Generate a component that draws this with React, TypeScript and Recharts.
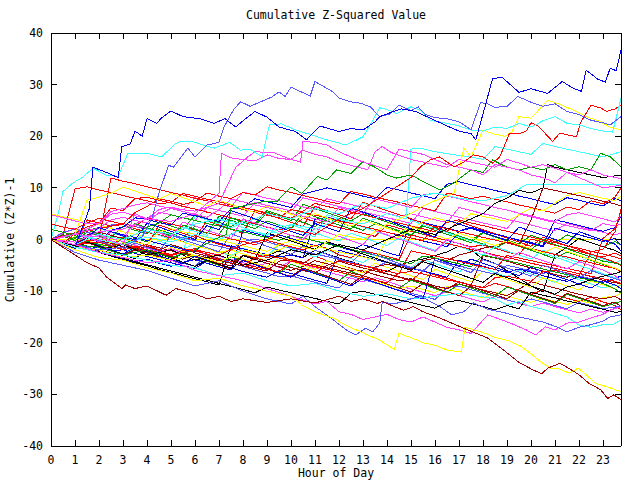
import React from 'react';
import { LineChart, Line, XAxis, YAxis } from 'recharts';

// ---------- axes ----------
const HALF_HOURS = [0, 0.5, 1, 1.5, 2, 2.5, 3, 3.5, 4, 4.5, 5, 5.5, 6, 6.5, 7, 7.5, 8, 8.5, 9, 9.5, 10, 10.5, 11, 11.5, 12, 12.5, 13, 13.5, 14, 14.5, 15, 15.5, 16, 16.5, 17, 17.5, 18, 18.5, 19, 19.5, 20, 20.5, 21, 21.5, 22, 22.5, 23, 23.5, 23.75];
const X_TICKS = [0, 1, 2, 3, 4, 5, 6, 7, 8, 9, 10, 11, 12, 13, 14, 15, 16, 17, 18, 19, 20, 21, 22, 23];
const Y_TICKS = [-40, -30, -20, -10, 0, 10, 20, 30, 40];
const X_DOMAIN: [number, number] = [0, 23.75];
const Y_DOMAIN: [number, number] = [-40, 40];

const TITLE = 'Cumulative Z-Squared Value';
const X_LABEL = 'Hour of Day';
const Y_LABEL = 'Cumulative (Z*Z)-1';

const COLORS: Record<string, string> = {
  R: '#ff0000',
  G: '#00a000',
  B: '#0000ee',
  M: '#ff40ff',
  C: '#40ffff',
  D: '#a00000',
  Y: '#ffff00',
  K: '#000000',
  L: '#5858ff',
};

type Pair = [number, number];

// ---------- prominent series: [hour, value] ----------
const TOP_BLUE: Pair[] = [[0,0],[0.5,-1],[1,-1.5],[1.6,6],[1.75,14],[2.3,13],[2.8,12],[2.95,18],[3.3,18.5],[3.5,21],[3.8,20],[4,23.4],[4.4,22.5],[4.6,23.5],[5,24.9],[5.5,23.8],[6.2,23.4],[6.8,22.5],[7.25,23.4],[7.7,21.8],[8,23],[8.5,24.8],[9,23.7],[9.5,21.8],[10.2,20.9],[10.65,19.3],[10.9,20.6],[11.2,22],[12,20.9],[12.5,21.5],[13,21.2],[13.5,22.8],[13.7,23.8],[14.1,24.5],[14.6,25.3],[15.2,24.8],[15.8,23.5],[16.5,22],[17,21],[17.5,20.5],[17.7,19.3],[18.1,26],[18.4,31.2],[18.8,31.4],[19.5,28.5],[20,29.2],[20.7,28.3],[21.3,30.6],[21.8,29.2],[22.1,28.7],[22.3,32.8],[22.8,31],[23.1,30.5],[23.3,33.2],[23.55,32.7],[23.75,36.7]];
const TOP_LIGHTBLUE: Pair[] = [[0,0],[1,-1],[2,-2],[3,-1.5],[3.8,0.5],[4.2,4],[4.5,9],[4.9,14.4],[5.1,14],[5.7,17.7],[6,16],[6.5,18.3],[7,18.8],[7.2,21.7],[7.6,25.1],[7.9,26.7],[8.3,25.8],[8.8,26.8],[9.2,27.6],[9.5,28.6],[9.75,27.7],[10,29.5],[10.8,27.8],[11,30.6],[11.75,28.6],[12,27.4],[12.45,26.7],[12.9,26.4],[13.3,25.7],[13.7,23.8],[14.1,24.3],[14.5,26],[15,25],[15.3,25.7],[15.6,24.2],[16,23.6],[16.5,23.4],[17,22.8],[17.5,21.3],[17.9,26.5],[18.2,26.3],[18.5,25.6],[19,25.8],[19.45,27.7],[20,26.6],[20.5,25.8],[21,26.3],[21.5,24.8],[22,24.2],[22.5,23.1],[23,22.6],[23.3,22.2],[23.75,23.8]];
const TOP_CYAN: Pair[] = [[0,0],[0.3,5],[0.5,9.3],[0.9,10.9],[1.3,12],[1.75,13.8],[2.3,12.5],[2.8,12.2],[3.2,16.7],[4,16.7],[4.6,16],[5.2,18.6],[5.4,19],[5.9,19],[6.4,18.2],[6.8,17.7],[7.45,18.8],[7.9,17.3],[8.3,17.5],[8.8,16],[9.1,22.2],[9.6,22.4],[10.2,21.2],[10.9,20.2],[11.5,19.3],[12.3,18.3],[13,19.9],[13.3,22.2],[13.7,25.5],[14,25.2],[14.4,24.4],[15,25.7],[15.4,25],[15.8,23.1],[16.5,22.5],[17,22],[17.5,21.2],[18,21],[18.5,21.8],[19,21.5],[19.5,22.5],[20,21.8],[20.5,23],[21,23.8],[21.5,22.5],[22,22.2],[22.5,21.5],[23,21],[23.4,20.8],[23.75,27.3]];
const TOP_RED: Pair[] = [[0,0],[1,-1],[2,-0.5],[3,-2],[4,-1],[5,-3],[6,-2],[7,-3],[8,-1],[9,0],[10,2],[11,1],[12,4],[13,6],[14,9],[15,12],[15.4,14.1],[15.8,15.4],[16.2,16],[16.5,15],[16.8,14.1],[17.2,15],[17.6,16.4],[18,16],[18.4,14.8],[18.7,16],[19.1,20.5],[19.5,20.5],[19.8,21],[20,22.6],[20.3,22],[20.9,19],[21.2,20.6],[21.9,19.9],[22.05,22.5],[22.5,26],[22.9,25.5],[23.15,24.8],[23.5,25.3],[23.75,26]];
const TOP_YELLOW: Pair[] = [[0,0],[1,-1.5],[2,-2],[3,-3.5],[4,-3],[5,-4],[6,-3],[7,-4.5],[8,-2],[9,-3],[10,-1],[11,-2],[12,1],[13,0],[14,3],[15,5],[15.5,6.5],[16,7.5],[16.8,9],[17.2,17.7],[17.5,16],[18,21.2],[18.4,20.5],[18.9,20],[19.2,20.8],[19.5,23.8],[20,23.5],[20.3,25],[20.7,27],[21.3,26],[21.8,25],[22.3,23.8],[22.8,23],[23.3,21.8],[23.75,21.2]];
const UPPER_MAGENTA_1: Pair[] = [[0,0],[1,1],[2,0.5],[3,-1],[3.5,5],[4,4],[5,6],[6,5.5],[7,7],[7.7,14],[8.2,16],[8.5,17],[9.3,16.8],[10,15.5],[10.4,15],[10.5,19],[11,18.8],[11.5,18.3],[12,17],[12.5,16],[13,15],[13.5,14.3],[14,13.5],[14.5,17.5],[15,17],[15.5,16.5],[16,15.5],[16.5,14.5],[17,14],[17.5,13.5],[18,12.5],[18.5,14.5],[19,14],[19.5,13.5],[20,12.5],[20.5,12],[21,11],[21.5,13],[22,12],[22.5,11],[23,10],[23.75,10.5]];
const UPPER_MAGENTA_2: Pair[] = [[0,0],[1,-0.5],[2,1.5],[3,2],[4,4],[5,3.5],[6,5],[6.5,7],[7,9],[7.1,16.7],[7.5,15.8],[8,15.5],[8.5,15.2],[9,16.4],[9.5,15.7],[10,15.5],[10.5,17.3],[11,16.5],[11.5,16],[12,15],[12.7,14.1],[13.2,13.5],[13.5,17],[13.8,18],[14.2,16.8],[15,15.5],[15.8,14.7],[16.5,14],[17,15.5],[17.5,15],[18,14.5],[18.5,14],[19,15.5],[19.5,14.8],[20,14],[20.5,14.5],[21,13.8],[21.5,13],[22,12.5],[22.5,13.5],[23,12.5],[23.75,11.8]];
const UPPER_GREEN: Pair[] = [[0,0],[1,-1],[2,-1.5],[3,-3],[4,-2],[5,-3.5],[6,-2],[6.8,0],[7.3,1],[7.5,6],[8,6.5],[8.8,7.3],[9.4,7.3],[10,10.2],[10.45,8.9],[11.1,12.2],[11.5,11.5],[11.9,13.5],[12.5,12.8],[13,15.1],[13.5,14],[14,12.5],[14.4,11.9],[15,12.5],[15.4,11.5],[16.2,9.6],[16.8,11],[17.5,13.5],[18,13],[18.4,15.4],[19,14],[19.5,13.5],[20,14],[20.5,13.5],[21,14.5],[21.5,13.5],[22,14.1],[22.5,13.5],[22.9,16.7],[23.3,16],[23.75,14.1]];
const UPPER_CYAN: Pair[] = [[0,0],[1,1],[2,0],[3,-1],[4,0.5],[5,-0.5],[6,1],[7,0],[8,2],[9,1],[10,3],[11,2],[12,4],[13,3],[14,5],[14.8,4],[15,17.5],[15.4,17.7],[16,17],[16.8,16.4],[17.5,16],[18,15.5],[18.5,18],[19,17.5],[19.5,17],[20,16.5],[20.5,18.6],[21,18],[21.5,17.5],[22,17],[22.5,16.5],[23,16],[23.75,17]];
const UPPER_BLACK: Pair[] = [[0,0],[1,-1],[2,-2],[3,-1],[4,-3],[5,-2],[6,-4],[7,-3],[8,-5],[9,-4],[10,-2],[11,-3],[12,-1],[13,-2],[14,0],[15,2],[16,1],[17,3],[18,5],[18.5,7],[19,8],[19.5,9.5],[20,9],[20.5,10],[20.7,14.5],[21,14],[21.5,13.5],[22,13],[22.5,12.5],[23,12],[23.75,12.5]];
const FLAT_CYAN: Pair[] = [[0,0],[1,-1],[2,1],[3,0],[4,2],[5,1],[6,3],[7,4],[8,3],[9,5],[10,4],[11,6],[12,5],[13,7],[14,6],[15,8],[16,9],[17,8],[18,7.5],[19,8.5],[19.8,10.6],[23.75,10.6]];
const BOTTOM_DARKRED: Pair[] = [[0,0],[0.5,-1.5],[1,-3],[1.5,-4.5],[2,-5.5],[2.3,-7.2],[2.95,-9.5],[3.1,-8.8],[3.5,-9.5],[4,-9],[4.8,-10.8],[5.2,-9.5],[6,-10.5],[6.5,-11.5],[7,-11],[7.5,-12],[8,-11.5],[9,-12.2],[10,-11.5],[11,-12.3],[12,-11],[12.5,-12],[13,-11.5],[13.6,-12.4],[13.8,-12],[14.3,-13],[14.7,-13.7],[15.1,-13],[15.5,-14],[16.2,-15.2],[17.2,-17.2],[18.2,-19.1],[18.85,-21.4],[19.5,-23.8],[20.1,-25.3],[20.45,-26],[20.7,-24.9],[21.2,-24],[21.6,-25],[22,-26.2],[22.4,-27.8],[22.9,-29.1],[23.2,-30.8],[23.45,-30.1],[23.75,-31]];
const BOTTOM_YELLOW: Pair[] = [[0,0],[1,-2],[2,-3.5],[3,-4],[4,-5.5],[5,-6.5],[6,-8],[7,-7.5],[8,-9],[9,-10],[10,-11],[10.5,-12.8],[11,-14],[11.75,-15.2],[12.3,-16.6],[12.9,-17.9],[13.7,-19.5],[14.3,-21.3],[14.5,-18.2],[15,-19],[15.5,-20],[16,-20.5],[16.5,-21.4],[17.1,-21.8],[17.25,-17],[17.6,-17.5],[18,-18],[18.5,-19],[19,-19.5],[19.55,-20.6],[19.96,-22],[20.4,-23.7],[20.8,-24.9],[21.2,-25.1],[21.6,-25.9],[21.97,-24.9],[22.3,-26.2],[22.7,-27.9],[23.15,-28.5],[23.75,-29.5]];
const BOTTOM_LIGHTBLUE: Pair[] = [[0,0],[1,-2.5],[2,-4],[3,-5],[4,-6],[5,-7.5],[6,-9],[7,-8],[8,-10],[9,-11.5],[10,-12.5],[10.5,-11],[11,-13],[11.6,-15],[12.3,-17.5],[12.7,-18.5],[13.1,-17.2],[13.4,-17.9],[13.7,-16.2],[13.8,-12.1],[14.3,-12.5],[15,-11.5],[15.4,-11],[16.2,-13],[16.7,-14.6],[17.2,-14],[17.6,-12.3],[18.2,-13.5],[19,-14.3],[19.5,-15],[20,-15.5],[20.5,-16],[21,-16.8],[21.5,-17.9],[22,-17],[22.5,-16.5],[23,-15.8],[23.3,-15],[23.75,-14.6]];
const BOTTOM_MAGENTA: Pair[] = [[0,0],[1,-1],[2,-2.5],[3,-3.5],[4,-4.5],[5,-4],[6,-6],[7,-7],[8,-8],[9,-9.5],[10,-11],[11,-12.5],[11.5,-12],[12,-14],[12.5,-14.5],[13,-15.5],[13.5,-15],[14,-14.5],[14.5,-15.5],[15,-16],[15.5,-15],[16,-16],[16.5,-17],[17,-17.5],[17.5,-18.2],[18.2,-14.6],[18.8,-15.6],[19.3,-16.5],[19.8,-17.5],[20.2,-18.5],[20.6,-16.9],[21,-17.5],[21.5,-16.2],[22,-16],[22.5,-15.2],[23,-14.5],[23.4,-13.5],[23.75,-13]];
const BOTTOM_CYAN: Pair[] = [[0,0],[1,-1.5],[2,-2.5],[3,-3],[4,-4],[5,-5],[6,-5.5],[7,-7],[8,-6.5],[9,-8],[10,-9],[11,-8.5],[12,-10],[13,-11],[14,-10.5],[15,-11.5],[16,-11],[17,-10.5],[18,-11.1],[18.5,-11.5],[19,-12.7],[19.5,-12],[20,-13],[20.5,-13.5],[21,-14.3],[21.5,-15],[22,-16.6],[22.5,-17],[23,-16.5],[23.4,-16.5],[23.75,-15.6]];
const ZERO_YELLOW: Pair[] = [[0,0],[23.75,0]];

// ---------- half-hourly series (values at HALF_HOURS) ----------
const H01 = [0,-0.4,-1.1,3.8,3.2,2.6,2.9,2.1,1.4,0.9, 0.3,-0.4,0.8,-0.2,-0.9,-1.5,-2.2,-2.8,-3.5,-3.1, -4.0,-4.6,-3.2,-4.1,-4.9,-5.6,-6.4,-5.8,-6.6,-7.3, -8.0,-6.1,-6.9,-7.5,-8.2,-8.8,-9.4,-8.5,-9.1,-9.9, -10.6,-9.8,-10.7,-11.4,-12.0,-11.2,-12.1,-12.8, -13.6];
const H02 = [0,0.9,0.2,1.8,1.1,0.4,2.6,1.8,1.1,3.4, 2.6,1.9,4.8,4.0,3.3,2.5,3.9,3.1,5.6,4.8, 4.0,3.3,2.5,4.1,3.3,2.6,1.8,3.0,2.2,1.5, 0.7,2.9,2.1,1.3,0.6,-0.2,1.4,0.6,-0.1,-0.9, 0.8,0.0,-0.7,0.9,0.1,-0.6,-1.4,-0.4, -1.1];
const H03 = [0,-0.5,-1.1,-1.8,-2.4,-3.0,-3.7,-4.3,-3.8,-4.6, -5.2,-4.4,-3.9,-4.6,-5.3,-5.9,1.8,1.2,0.6,0.9, 0.2,-0.5,-1.2,-0.6,-1.4,-2.1,-1.0,-1.7,-2.5,-3.2, 3.9,3.3,2.7,2.2,1.6,2.4,1.7,1.1,0.5,-0.2, -0.8,-1.4,2.2,1.5,0.9,0.3,-0.4,0.2, -1.1];
const H04 = [0,1.2,2.1,1.5,0.8,0.2,-0.4,-1.1,-1.7,-2.3, -1.8,-2.6,-3.3,-2.5,-3.2,-3.9,-4.5,-5.2,-4.6,-5.4, -4.1,-4.8,-5.5,-6.2,-6.9,-7.5,-8.2,-7.4,-8.1,-8.9, -9.6,-10.2,-10.9,-10.1,-10.8,-11.5,-12.1,-11.0,-11.7,-12.4, -13.0,-12.3,-13.0,-13.6,-14.2,-13.5,-14.1,-13.4, -13.0];
const H05 = [0,-0.8,0.4,-0.4,-1.2,0.9,0.1,-0.7,-1.5,-0.3, -1.1,-1.9,-0.8,-1.6,-2.4,-3.2,-1.7,-2.5,-3.3,-1.0, -1.8,-2.6,-3.4,-2.1,-2.9,-3.7,-4.5,-3.0,-3.8,-4.6, -5.4,-3.9,-4.7,-5.5,-6.3,-4.8,-5.6,-6.4,-7.2,-5.9, -6.7,-7.5,-8.3,-7.0,-7.8,-8.6,-9.4,-8.8, -9.0];
const H06 = [0,0.5,1.0,0.4,-0.2,-0.8,-1.4,-2.0,-1.3,-2.1, -1.0,-1.7,-2.6,-3.2,-3.9,-4.5,-3.1,-3.8,-4.6,-5.3, -6.0,-5.2,-4.1,-4.7,-5.4,-6.0,-6.1,-6.8,-7.4,-8.0, -7.6,-8.3,-9.0,-9.6,-8.2,-8.9,-3.1,-3.6,-4.2,-4.9, -5.5,-6.1,-6.8,-7.3,-6.5,-7.2,-7.9,-8.4, -8.5];
const H07 = [5.0,4.4,3.9,3.3,2.8,2.2,1.5,1.0,0.4,-0.2, 0.3,-0.5,-1.2,-1.8,-2.5,-2.0,-2.8,-3.5,-4.1,-4.8, -5.4,-6.0,-5.1,-5.8,-6.3,-7.0,-7.6,-8.2,-8.8,-9.5, -9.0,-9.7,-10.3,-9.1,-9.8,-10.6,-11.3,-10.2,-10.9,-11.6, -12.2,-11.4,-12.0,-12.6,-11.8,-12.4,-11.2,-11.0, -10.4];
const H08 = [0,-0.6,-1.2,-1.9,-2.5,-3.2,-3.9,-4.5,-5.1,-5.8, -6.4,-7.0,-7.6,-8.2,-8.8,-1.2,-1.8,-2.4,-3.1,-2.2, -2.9,-3.5,-2.1,-2.8,-3.6,-4.3,-5.0,-5.6,-6.2,-5.0, -4.2,-3.8,-3.1,-2.4,-1.3,-2.0,-3.8,-4.6,-6.0,-7.5, -9.0,-10.2,-3.0,-1.5,0.2,-0.6,-1.4,-2.1, -2.7];
const H09 = [0,-0.5,-1.1,-1.6,-2.2,-1.4,-1.0,-1.7,-2.5,-3.2, -3.9,-4.6,-5.2,-3.0,-3.7,-4.5,-5.2,-5.9,-6.5,-7.2, -7.0,-7.7,-8.3,-8.9,-9.4,-7.1,-7.8,-8.4,-9.1,-9.8, -10.4,-11.0,-11.6,-9.3,-9.0,-9.7,-10.4,-11.0,-11.7,-12.3, -11.5,-12.1,-12.8,-13.4,-12.2,-12.8,-13.4,-13.1, -13.0];
const H10 = [0,0.7,1.3,2.4,3.2,6.1,5.6,7.9,8.2,7.6, 7.1,6.4,5.9,5.3,4.8,4.2,3.6,3.0,2.4,1.9, 2.3,4.1,3.5,2.9,2.3,1.8,1.2,0.6,2.8,2.2, 1.6,1.0,0.4,-0.2,-0.8,-1.4,-1.1,-1.7,-2.4,-3.0, 0.1,-0.5,-1.1,-1.7,-2.3,-2.9,-3.4,-2.6, -3.2];
const H11 = [0,0.6,-0.2,1.4,0.6,-0.2,-1.0,0.3,-0.5,1.9, 1.1,0.3,2.6,1.8,1.0,4.2,3.4,2.6,5.3,4.5, 3.7,6.8,6.0,5.2,4.4,3.6,5.0,4.2,3.4,2.6, 1.8,1.0,2.3,1.5,0.7,-0.1,-0.9,-1.7,-0.5,-1.3, -2.1,-2.9,-3.7,-2.4,-3.2,-4.0,-4.8,-5.6, -6.0];
const H12 = [0,-0.5,-1.0,-1.3,-1.6,-2.2,-2.0,-2.7,-3.3,-3.9, -4.5,-5.1,-5.6,-4.2,-4.8,-5.5,-6.2,-6.8,-7.3,-6.0, -6.6,-7.2,-7.9,-8.5,-2.1,-2.7,-3.3,-3.9,-4.4,-5.0, -5.6,-6.1,-6.7,-7.3,-4.0,-4.6,-5.2,-5.8,-6.4,-5.7, -6.3,-7.0,-7.6,-8.1,-7.2,-7.8,-8.3,-7.5, -7.1];
const H13 = [0,0.4,1.2,2.0,3.1,4.9,5.3,4.6,4.0,5.8, 6.3,5.7,8.1,7.5,6.9,6.3,9.2,8.6,8.0,7.5, 6.9,6.3,5.8,7.9,7.3,6.8,6.2,5.6,5.1,4.5, 5.0,4.4,3.8,3.3,6.2,5.6,5.0,4.5,3.9,3.4, 2.8,2.2,1.7,3.1,2.5,1.9,1.4,0.9, 1.2];
const H14 = [0,-0.8,-1.6,-0.5,-1.3,-2.1,-2.9,-1.6,-2.4,-3.2, -4.0,-2.3,4.6,3.8,3.0,2.2,3.5,2.7,1.9,1.1, 2.9,2.1,1.3,0.5,-0.3,1.2,0.4,-0.4,-1.2,0.3, -0.5,-1.3,-2.1,-0.6,-1.4,-2.2,-3.0,-1.4,-2.2,-3.0, -3.8,-2.1,-2.9,-3.7,-4.5,-3.0,-3.8,-4.6, -4.0];
const H15 = [0,-0.6,-1.1,0.9,1.4,0.8,0.2,-0.4,-1.0,-1.6, -2.2,-2.8,-3.4,-4.0,-4.6,-5.1,-3.0,-3.6,-4.2,-4.8, -5.4,-6.0,-6.5,-5.0,-4.2,-4.9,-5.5,-6.1,-6.7,-7.2, -7.8,-8.4,-9.0,-9.5,-8.6,-9.2,-9.8,-10.3,-10.9,-9.6, -8.2,-8.8,-9.4,-10.0,-10.6,-11.1,-11.5,-11.0, -11.7];
const H16 = [0,-0.8,0.6,-0.2,-1.0,-1.8,-0.6,-1.4,-2.2,-3.0, -1.5,-2.3,-3.1,-3.9,-2.2,-3.0,-3.8,-4.6,-5.4,-3.4, -4.2,-5.0,-5.8,-4.1,-4.9,-5.7,-6.5,-4.6,-5.4,-6.2, -7.0,-7.8,-5.8,-6.6,-7.4,-8.2,-6.1,-6.9,-7.7,-8.5, -9.3,-7.4,-8.2,-9.0,-9.8,-8.0,-8.8,-9.6, -8.5];
const H17 = [0,-0.6,-1.2,-1.8,-2.4,-3.0,-3.6,-4.3,-4.9,-5.5, -6.1,-6.7,-7.3,-7.9,-8.5,-9.1,-9.7,-10.3,-9.2,-9.8, -10.3,-10.9,-11.4,-12.0,-12.5,-10.4,-10.0,-10.6,-11.1,-11.7, -12.2,-12.8,-13.3,-12.1,-11.8,-12.4,-13.0,-13.6,-12.8,-13.4, -10.2,-10.8,-11.3,-11.9,-12.4,-13.0,-13.5,-14.1, -14.0];
const H18 = [0,1.4,2.0,1.4,0.9,2.8,3.1,2.5,2.0,1.4, 0.9,0.3,-0.2,-0.8,-1.3,-1.9,-0.4,0.1,-0.5,-1.1, -1.6,-2.2,-2.8,-3.3,-3.9,-4.4,-5.0,-5.5,-4.3,-4.9, -5.5,-6.0,-4.0,-4.6,-5.1,-5.7,-6.2,-6.7,-5.0,-5.5, -6.1,-6.6,-5.9,-6.5,-7.0,-7.6,-7.1,-6.6, -6.2];
const H19 = [0,-0.8,1.2,0.4,-0.4,-1.2,0.5,-0.3,-1.1,2.8, 2.0,1.2,0.4,3.6,2.8,2.0,1.2,5.7,4.9,4.1, 3.3,2.5,6.4,5.6,4.8,4.0,7.2,6.4,5.6,4.8, 4.0,3.2,2.4,1.6,3.5,2.7,1.9,1.1,0.3,-0.5, -1.3,0.4,-0.4,-1.2,-2.0,-2.8,-3.6,-4.4, -5.0];
const H20 = [0,-0.9,0.5,-0.3,-1.1,-1.9,-0.8,-1.6,-2.4,-3.2, -4.0,-2.6,-3.4,-4.2,-5.0,-3.3,-4.1,-4.9,-5.7,-6.5, -4.8,-5.6,-6.4,-7.2,-8.0,-6.2,-7.0,-7.8,-8.6,-9.4, -7.9,-8.7,-9.5,-10.3,-8.6,-9.4,-10.2,-11.0,-9.2,-10.0, -10.8,-11.6,-12.4,-10.6,-11.4,-12.2,-13.0,-12.4, -12.0];
const H21 = [0,0.5,1.0,1.6,2.1,1.5,0.9,0.4,-0.2,-0.8, -1.3,-1.9,-2.4,-0.1,-0.7,-1.3,-1.8,-2.4,-2.9,-3.4, -3.0,-3.6,3.9,4.3,3.7,3.1,2.5,2.0,1.4,0.8, 0.3,-0.3,-0.8,-1.4,1.6,2.2,1.6,1.0,0.5,-0.1, -0.6,-1.2,3.8,3.3,2.7,2.1,1.6,2.3, 4.5];
const H22 = [0,-0.9,-1.7,-0.6,-1.4,-2.2,-3.0,-1.8,-2.6,-3.4, -4.2,-2.5,-3.3,-4.1,-4.9,-5.7,-4.0,-4.8,-5.6,-6.4, -7.2,-5.5,-6.3,-7.1,-7.9,-8.7,-7.0,-7.8,-8.6,-9.4, -10.2,-8.5,-9.3,-10.1,-10.9,-9.1,-9.9,-10.7,-11.5,-9.8, -10.6,-11.4,-12.2,-10.4,-11.2,-12.0,-12.8,-12.1, -13.0];
const H23 = [0,0.5,1.0,1.6,2.1,2.6,3.1,2.5,4.2,3.6, 3.0,2.4,1.9,1.3,0.7,0.1,-0.4,-1.0,-0.2,-0.8, -1.4,-2.0,-1.1,-1.7,-3.0,-3.5,-2.1,-2.7,-3.3,-3.9, 0.9,0.3,-0.2,-0.8,-1.3,-1.9,-2.4,-3.0,-3.5,-4.0, -4.6,-5.1,-5.6,-6.1,-6.6,-7.1,-7.6,-8.1, -8.5];
const H24 = [0,-0.9,-1.7,-0.4,-1.2,-2.0,-2.8,-1.5,-2.3,-3.1, -3.9,-4.7,-3.2,-4.0,-4.8,-5.6,-4.1,-4.9,-5.7,-6.5, -7.3,-5.8,-6.6,-7.4,-8.2,-9.0,-7.5,-8.3,-9.1,-9.9, -10.7,-11.5,-3.6,-4.4,-5.2,-3.8,-4.6,-5.4,-6.2,-7.0, -5.4,-6.2,-7.0,-7.8,-8.6,-9.4,-8.0,-8.8, -9.5];
const H25 = [0,0.6,1.2,1.8,2.3,1.5,0.7,3.1,2.3,1.5, 0.7,2.8,2.0,1.2,4.5,3.7,2.9,2.1,3.6,2.8, 2.0,5.2,4.4,3.6,2.8,2.0,4.1,3.3,2.5,1.7, 0.9,2.6,1.8,1.0,0.2,-0.6,1.3,0.5,-0.3,-1.1, -1.9,-0.2,-1.0,-1.8,-2.6,-3.4,-4.2,-4.6, -4.9];
const H26 = [0,-0.5,-1.0,-0.2,0.1,-0.5,-1.0,-1.5,-2.1,-2.6, -3.1,-2.5,-2.2,-2.8,-3.7,-4.2,-4.8,-5.3,-5.8,-6.3, -4.2,-4.7,-5.3,-5.8,-6.3,-6.9,-7.4,-7.9,-8.4,-6.5, -6.2,-6.7,-7.2,-7.8,-8.3,-8.8,-9.3,-7.4,-7.1,-7.6, -8.1,-6.2,-6.0,-6.5,-7.0,-2.4,-1.9,1.5, 5.8];
const H27 = [0,0.6,1.1,1.7,2.2,3.8,4.3,3.7,3.2,5.3, 4.8,4.2,3.7,6.2,5.6,5.1,4.5,7.2,6.6,6.1, 5.5,8.1,7.5,7.0,6.4,5.9,5.3,4.8,4.2,3.7, 3.1,6.0,5.4,4.9,4.3,3.8,3.2,2.7,2.1,4.9, 4.4,3.8,3.3,2.7,2.2,1.7,3.1,2.6, 3.0];
const H28 = [0,0.5,1.0,0.4,2.2,1.4,0.6,-0.2,1.6,0.8, 0.0,2.4,1.6,0.8,3.9,3.1,2.3,1.5,0.7,2.9, 2.1,1.3,0.5,4.8,4.0,3.2,2.4,1.6,0.8,0.0, 3.7,2.9,2.1,1.3,0.5,-0.3,-1.1,0.6,-0.2,-1.0, -1.8,-2.6,-3.4,-4.2,-5.0,-5.8,-6.6,-7.4, -7.8];
const H29 = [3.0,2.4,2.0,3.2,4.1,3.5,3.0,5.2,6.4,7.9, 7.4,6.8,7.3,9.0,8.4,7.9,9.1,8.6,10.2,9.6, 9.1,8.5,8.0,7.4,6.9,9.3,8.8,8.2,7.7,7.2, 6.6,6.1,5.5,9.0,8.5,7.9,8.4,7.8,7.3,6.7, 6.2,5.6,5.1,6.3,5.8,7.5,6.9,8.2, 10.0];
const H30 = [0,0.5,1.0,0.3,-0.5,1.8,2.4,4.2,3.9,3.3, 2.8,5.1,4.6,4.0,3.5,5.9,6.3,7.9,7.3,6.8, 6.2,8.8,9.4,10.0,9.5,9.0,8.4,7.9,10.1,9.6, 9.0,8.5,7.9,10.7,11.2,10.6,10.1,9.5,9.0,8.4, 7.9,7.3,6.8,8.1,7.6,7.0,6.5,7.9, 7.5];
const H31 = [0,-0.5,-1.0,-1.5,-2.1,-0.5,0.1,-0.5,-1.0,1.5, 2.1,1.5,1.0,0.4,-0.1,-0.7,-1.2,-1.8,-2.3,-1.0, -0.2,-0.7,-1.3,-1.8,-2.4,-2.9,-3.4,-4.0,0.1,0.5, 1.8,3.5,4.2,3.6,3.1,5.0,4.5,4.0,3.5,4.8, 6.0,5.5,7.1,8.5,9.1,8.5,8.0,7.5, 8.4];
const H32 = [0,-0.5,-1.0,-1.6,-2.1,-1.2,-0.9,-1.4,-2.0,-2.5, -3.0,-2.1,-1.8,-3.0,-4.1,-4.6,-5.1,-3.5,-3.1,-3.6, -4.2,-4.7,-5.2,-5.8,-4.0,-4.6,-5.1,-5.6,-6.1,-6.7, -2.2,-2.7,-3.2,-3.7,-4.2,-4.8,-5.3,-5.8,-3.1,-3.6, -4.1,-4.6,-5.1,-5.6,-6.1,-6.6,0.2,2.1, 5.5];
const H33 = [0,-0.5,-1.0,-1.5,-2.1,-2.6,-3.1,-2.0,-2.2,-2.8, -3.3,-3.8,-3.0,-3.5,-4.1,-4.6,-5.1,-5.6,-6.1,-4.2, -3.9,-4.4,-4.9,-5.5,-6.0,-6.5,-7.0,-5.3,-4.8,-5.3, -5.8,-4.1,-3.6,-4.1,-3.0,-2.4,-1.7,-1.2,-0.5,-1.0, 3.8,10.0,9.5,9.0,8.5,8.0,7.4,6.9, 6.5];
const H34 = [0,0.8,9.8,10.2,9.6,9.1,8.5,8.0,7.5,6.9, 7.2,8.9,8.4,7.8,7.3,6.7,6.2,5.7,5.1,4.6, 4.1,5.5,7.0,6.4,5.9,5.3,4.8,4.2,3.7,3.2, 2.6,2.1,1.5,3.3,3.8,3.2,2.7,2.1,1.6,1.0, 0.5,-0.1,-0.6,-1.2,-1.7,-2.3,-2.8,-3.4, -3.8];
const H35 = [0,-0.5,-1.0,-0.4,0.2,11.9,11.3,10.8,10.2,9.7, 9.1,8.6,8.0,7.5,6.9,6.4,5.8,5.3,4.7,4.2, 5.8,5.3,4.7,4.2,3.6,3.1,2.5,2.0,1.4,0.9, 0.3,-0.2,2.6,2.1,1.5,1.0,0.4,-0.1,-0.7,-1.2, -1.8,-2.3,-2.9,-3.4,-4.0,-4.5,-5.1,-5.6, -6.2];
const H36 = [4.8,4.2,3.6,3.0,3.1,5.4,6.0,6.7,7.1,6.5, 6.0,5.4,4.9,4.3,5.8,7.8,7.3,6.7,6.2,5.6, 5.1,4.5,4.0,3.4,6.2,5.6,5.1,7.9,7.3,6.8, 6.2,8.6,9.0,8.4,7.9,7.3,6.8,6.2,5.7,5.1, 4.6,4.0,3.5,4.8,5.2,4.6,4.0,3.4, 4.5];
const H37 = [0,0.5,1.0,7.6,8.2,9.0,10.2,9.4,8.6,7.8, 8.9,8.1,7.3,6.5,7.6,6.8,6.0,5.2,6.5,5.7, 4.9,4.1,5.0,4.2,3.4,2.6,3.8,3.0,2.2,1.4, 2.5,1.7,0.9,0.1,1.2,0.4,-0.4,-1.2,-0.2,-1.0, -1.8,-2.6,-1.5,-2.3,-3.1,-3.9,-4.7,-5.5, -6.0];
const H38 = [2.0,1.4,0.8,-0.4,-0.9,-1.4,0.3,0.9,2.4,3.2, 4.8,4.2,3.7,3.1,2.6,2.0,1.5,0.9,0.4,-0.2, 0.8,0.3,-0.3,-0.8,-1.4,-1.9,-2.5,-3.0,-3.6,-4.1, -4.7,-3.2,-3.6,-4.2,-4.7,-5.3,-3.0,-3.5,-4.1,-4.6, -5.2,-5.7,-6.3,-6.8,-7.4,-7.9,-8.5,-9.6, -10.4];
const H39 = [0,-0.8,-1.6,0.5,-0.3,-1.1,-1.9,-0.7,-1.5,-2.3, 0.8,0.0,-0.8,-1.6,-2.4,1.1,0.3,-0.5,-1.3,-2.1, -2.9,-1.3,-2.1,-2.9,-3.7,-4.5,-2.2,-3.0,-3.8,-4.6, -5.4,-6.2,-4.0,-4.8,-5.6,-6.4,-3.9,-4.7,-5.5,-6.3, -7.1,-5.0,-5.8,-6.6,-7.4,-6.0,-6.8,-7.6, -8.0];
const H40 = [0,0.5,1.0,0.4,-0.4,1.5,0.7,2.9,2.1,1.3, 0.5,3.4,2.6,1.8,1.0,0.2,4.0,3.2,2.4,1.6, 0.8,0.0,2.2,1.4,0.6,-0.2,-1.0,1.7,0.9,0.1, -0.7,-1.5,-2.3,0.0,-0.8,-1.6,-2.4,-3.2,-4.0,-2.5, -3.3,-4.1,-4.9,-5.7,-4.3,-5.1,-5.9,-7.0, -8.0];
const H41 = [0,-0.8,-1.6,-0.5,-1.3,-2.1,-2.9,-3.7,-2.0,-2.8, -3.6,-4.4,-5.2,-4.0,-4.8,-5.6,-3.1,-3.9,1.3,0.5, -0.3,-1.1,-1.9,-0.4,-1.2,-2.0,-2.8,-3.6,-4.4,-5.2, -6.0,-4.3,-5.1,-5.9,-6.7,-7.5,-8.3,-6.6,-7.4,-8.2, -9.0,-9.8,-10.6,-9.2,-8.6,-7.8,-7.1,-6.6, -6.2];
const H42 = [0,-0.5,-1.0,0.4,2.3,1.5,0.7,-0.1,3.2,2.4, 1.6,0.8,0.0,2.7,1.9,5.6,4.8,4.0,3.2,2.4, 1.6,0.8,3.1,2.3,1.5,6.1,5.3,4.5,3.7,2.9, 2.1,1.3,0.5,3.8,3.0,2.2,1.4,0.6,-0.2,2.4, 1.6,0.8,0.0,-0.8,1.5,0.7,-0.1,-0.9, -2.2];

const HALF_SERIES: [number[], string][] = [
  [H01, 'R'], [H02, 'G'], [H03, 'B'], [H04, 'M'], [H05, 'C'], [H06, 'D'], [H07, 'Y'],
  [H08, 'K'], [H09, 'L'], [H10, 'R'], [H11, 'G'], [H12, 'B'], [H13, 'M'], [H14, 'C'],
  [H15, 'D'], [H16, 'Y'], [H17, 'K'], [H18, 'L'], [H19, 'R'], [H20, 'G'], [H21, 'B'],
  [H22, 'D'], [H23, 'R'], [H24, 'B'], [H25, 'G'], [H26, 'R'], [H27, 'M'], [H28, 'C'],
  [H29, 'R'], [H30, 'B'], [H31, 'Y'], [H32, 'R'], [H33, 'D'], [H34, 'R'], [H35, 'R'],
  [H36, 'M'], [H37, 'Y'], [H38, 'G'], [H39, 'L'], [H40, 'M'], [H41, 'K'], [H42, 'B'],
];

const PROMINENT_SERIES: [Pair[], string][] = [
  [FLAT_CYAN, 'C'], [UPPER_BLACK, 'K'], [UPPER_CYAN, 'C'], [UPPER_GREEN, 'G'],
  [UPPER_MAGENTA_1, 'M'], [UPPER_MAGENTA_2, 'M'], [TOP_YELLOW, 'Y'], [TOP_RED, 'R'],
  [TOP_CYAN, 'C'], [TOP_LIGHTBLUE, 'L'], [TOP_BLUE, 'B'],
  [BOTTOM_CYAN, 'C'], [BOTTOM_MAGENTA, 'M'], [BOTTOM_LIGHTBLUE, 'L'], [BOTTOM_YELLOW, 'Y'], [BOTTOM_DARKRED, 'D'],
];

type Row = { h: number; v: number };
type Series = { id: string; color: string; data: Row[] };

const zeroSeries: Series = { id: 'zero', color: COLORS.Y, data: ZERO_YELLOW.map(([h, v]) => ({ h, v })) };
const halfSeries: Series[] = HALF_SERIES.map(([vals, c], i) => ({
  id: 'h' + i,
  color: COLORS[c],
  data: vals.slice(0, HALF_HOURS.length).map((v, k) => ({ h: HALF_HOURS[k], v })),
}));
const prominentSeries: Series[] = PROMINENT_SERIES.map(([pts, c], i) => ({
  id: 'p' + i,
  color: COLORS[c],
  data: pts.map(([h, v]) => ({ h, v })),
}));
const SERIES: Series[] = [zeroSeries, ...halfSeries, ...prominentSeries];

const FONT = '"DejaVu Sans Mono", "Liberation Mono", monospace';
const FS = 11.5;

const BottomTick = (p: any) => (
  <g>
    <line x1={p.x} x2={p.x} y1={p.y} y2={p.y - 6} stroke="#000" />
    <text x={p.x} y={p.y + 18} textAnchor="middle" fontFamily={FONT} fontSize={FS} fill="#000">{p.payload.value}</text>
  </g>
);
const TopTick = (p: any) => <line x1={p.x} x2={p.x} y1={p.y} y2={p.y + 6} stroke="#000" />;
const LeftTick = (p: any) => (
  <g>
    <line x1={p.x} x2={p.x + 6} y1={p.y} y2={p.y} stroke="#000" />
    <text x={p.x - 8} y={p.y + 4} textAnchor="end" fontFamily={FONT} fontSize={FS} fill="#000">{p.payload.value}</text>
  </g>
);
const RightTick = (p: any) => <line x1={p.x} x2={p.x - 6} y1={p.y} y2={p.y} stroke="#000" />;

export default function App() {
  return (
    <div style={{ position: 'absolute', left: 0, top: 0, width: 640, height: 480, background: '#fff' }}>
      <LineChart
        width={640}
        height={480}
        margin={{ top: 0, right: 0, bottom: 0, left: 0 }}
        style={{ shapeRendering: 'crispEdges' }}
      >
        <XAxis xAxisId="b" dataKey="h" type="number" domain={X_DOMAIN} ticks={X_TICKS} interval={0} allowDataOverflow
          height={34} tickSize={0} tickMargin={0} tickLine={false} axisLine={{ stroke: '#000' }} tick={BottomTick} />
        <XAxis xAxisId="t" orientation="top" dataKey="h" type="number" domain={X_DOMAIN} ticks={X_TICKS} interval={0} allowDataOverflow
          height={33} tickSize={0} tickMargin={0} tickLine={false} axisLine={{ stroke: '#000' }} tick={TopTick} />
        <YAxis yAxisId="l" type="number" domain={Y_DOMAIN} ticks={Y_TICKS} interval={0} allowDataOverflow
          width={51} tickSize={0} tickMargin={0} tickLine={false} axisLine={{ stroke: '#000' }} tick={LeftTick} />
        <YAxis yAxisId="r" orientation="right" type="number" domain={Y_DOMAIN} ticks={Y_TICKS} interval={0} allowDataOverflow
          width={19} tickSize={0} tickMargin={0} tickLine={false} axisLine={{ stroke: '#000' }} tick={RightTick} />
        {SERIES.map((s) => (
          <Line
            key={s.id}
            xAxisId="b"
            yAxisId="l"
            data={s.data}
            dataKey="v"
            type="linear"
            stroke={s.color}
            strokeWidth={1}
            dot={false}
            activeDot={false}
            isAnimationActive={false}
          />
        ))}
      </LineChart>
      <svg width={640} height={480} style={{ position: 'absolute', left: 0, top: 0, pointerEvents: 'none' }}>
        <text x={336} y={19} textAnchor="middle" fontFamily={FONT} fontSize={FS} fill="#000">{TITLE}</text>
        <text x={336} y={477} textAnchor="middle" fontFamily={FONT} fontSize={FS} fill="#000">{X_LABEL}</text>
        <text x={14} y={240} textAnchor="middle" fontFamily={FONT} fontSize={FS} fill="#000" transform="rotate(-90, 14, 240)">{Y_LABEL}</text>
      </svg>
    </div>
  );
}
